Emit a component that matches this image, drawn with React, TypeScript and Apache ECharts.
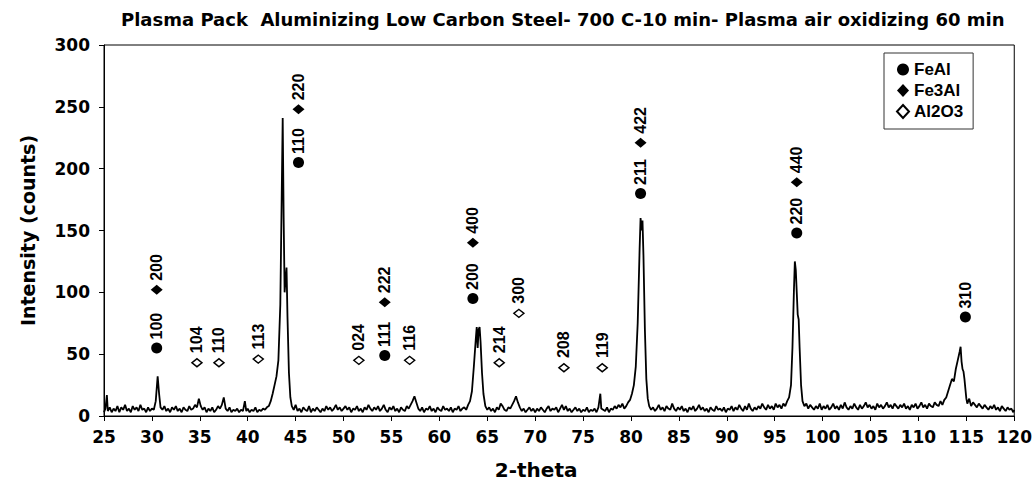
import React, { useEffect, useRef } from "react";
import * as echarts from "echarts";

// Diffraction pattern: [2-theta, intensity]
const spectrum: [number, number][] = [
  [25.0, 3], [25.15, 6], [25.3, 17], [25.4, 4], [25.6, 7], [25.8, 3], [26.0, 6], [26.2, 4], [26.4, 8], [26.6, 3],
  [26.8, 7], [27.0, 5], [27.2, 9], [27.4, 4], [27.6, 6], [27.8, 3], [28.0, 8], [28.2, 5], [28.4, 7], [28.6, 4],
  [28.8, 9], [29.0, 5], [29.2, 6], [29.4, 3], [29.6, 7], [29.8, 4], [30.0, 6], [30.2, 5], [30.4, 12], [30.6, 32],
  [30.75, 18], [30.9, 7], [31.1, 5], [31.3, 8], [31.5, 4], [31.7, 6], [31.9, 3], [32.1, 7], [32.3, 5], [32.5, 8],
  [32.7, 4], [32.9, 6], [33.1, 3], [33.3, 7], [33.5, 5], [33.7, 4], [33.9, 8], [34.1, 5], [34.3, 6], [34.5, 9],
  [34.7, 7], [34.9, 14], [35.1, 8], [35.3, 5], [35.5, 7], [35.7, 3], [35.9, 6], [36.1, 4], [36.3, 7], [36.5, 3],
  [36.7, 5], [36.9, 8], [37.1, 6], [37.3, 9], [37.5, 15], [37.7, 6], [37.9, 4], [38.1, 7], [38.3, 3], [38.5, 5],
  [38.7, 4], [38.9, 6], [39.1, 3], [39.3, 5], [39.5, 4], [39.7, 12], [39.85, 4], [40.0, 6], [40.2, 3], [40.4, 5],
  [40.6, 4], [40.8, 7], [41.0, 3], [41.2, 5], [41.4, 4], [41.6, 6], [41.8, 5], [42.0, 7], [42.2, 8], [42.4, 12],
  [42.6, 18], [42.8, 25], [43.0, 32], [43.2, 45], [43.4, 90], [43.55, 180], [43.65, 241], [43.75, 160], [43.85, 100],
  [43.95, 110], [44.05, 120], [44.15, 80], [44.3, 35], [44.45, 15], [44.6, 8], [44.8, 5], [45.0, 9], [45.2, 4],
  [45.4, 6], [45.6, 3], [45.8, 7], [46.0, 5], [46.2, 4], [46.4, 8], [46.6, 3], [46.8, 6], [47.0, 4], [47.2, 7],
  [47.4, 5], [47.6, 3], [47.8, 6], [48.0, 4], [48.2, 8], [48.4, 5], [48.6, 7], [48.8, 4], [49.0, 6], [49.2, 9],
  [49.4, 5], [49.6, 7], [49.8, 4], [50.0, 6], [50.2, 8], [50.4, 5], [50.6, 7], [50.8, 3], [51.0, 6], [51.2, 5],
  [51.4, 8], [51.6, 4], [51.8, 6], [52.0, 3], [52.2, 7], [52.4, 5], [52.6, 9], [52.8, 6], [53.0, 4], [53.2, 7],
  [53.4, 5], [53.6, 8], [53.8, 4], [54.0, 6], [54.2, 9], [54.4, 5], [54.6, 3], [54.8, 7], [55.0, 5], [55.2, 8],
  [55.4, 4], [55.6, 6], [55.8, 3], [56.0, 7], [56.2, 5], [56.4, 4], [56.6, 8], [56.8, 6], [57.0, 9], [57.2, 12],
  [57.4, 16], [57.6, 11], [57.8, 6], [58.0, 4], [58.2, 7], [58.4, 3], [58.6, 6], [58.8, 5], [59.0, 8], [59.2, 4],
  [59.4, 6], [59.6, 3], [59.8, 7], [60.0, 5], [60.2, 4], [60.4, 8], [60.6, 5], [60.8, 6], [61.0, 4], [61.2, 7],
  [61.4, 3], [61.6, 6], [61.8, 5], [62.0, 8], [62.2, 4], [62.4, 6], [62.6, 7], [62.8, 5], [63.0, 9], [63.2, 12],
  [63.4, 20], [63.6, 40], [63.8, 62], [63.9, 72], [64.0, 55], [64.1, 70], [64.2, 72], [64.3, 60], [64.45, 35],
  [64.6, 18], [64.8, 8], [65.0, 5], [65.2, 7], [65.4, 4], [65.6, 6], [65.8, 3], [66.0, 7], [66.2, 5], [66.4, 10],
  [66.6, 8], [66.8, 5], [67.0, 4], [67.2, 7], [67.4, 6], [67.6, 9], [67.8, 12], [68.0, 16], [68.2, 11], [68.4, 7],
  [68.6, 4], [68.8, 6], [69.0, 3], [69.2, 5], [69.4, 7], [69.6, 4], [69.8, 6], [70.0, 3], [70.2, 6], [70.4, 4],
  [70.6, 7], [70.8, 5], [71.0, 3], [71.2, 6], [71.4, 8], [71.6, 4], [71.8, 6], [72.0, 5], [72.2, 7], [72.4, 3],
  [72.6, 6], [72.8, 9], [73.0, 5], [73.2, 8], [73.4, 4], [73.6, 6], [73.8, 3], [74.0, 5], [74.2, 7], [74.4, 4],
  [74.6, 6], [74.8, 3], [75.0, 5], [75.2, 4], [75.4, 7], [75.6, 3], [75.8, 5], [76.0, 4], [76.2, 6], [76.4, 3],
  [76.6, 7], [76.8, 18], [76.9, 6], [77.1, 5], [77.3, 4], [77.5, 7], [77.7, 3], [77.9, 6], [78.1, 5], [78.3, 8],
  [78.5, 6], [78.7, 9], [78.9, 7], [79.1, 10], [79.3, 6], [79.5, 8], [79.7, 11], [79.9, 13], [80.1, 18], [80.3, 25],
  [80.5, 40], [80.7, 75], [80.9, 135], [81.0, 160], [81.1, 150], [81.2, 158], [81.3, 130], [81.45, 70], [81.6, 30],
  [81.75, 14], [81.9, 8], [82.1, 5], [82.3, 7], [82.5, 4], [82.7, 6], [82.9, 9], [83.1, 5], [83.3, 7], [83.5, 4],
  [83.7, 8], [83.9, 6], [84.1, 5], [84.3, 10], [84.5, 6], [84.7, 4], [84.9, 7], [85.1, 5], [85.3, 8], [85.5, 4],
  [85.7, 6], [85.9, 3], [86.1, 7], [86.3, 5], [86.5, 8], [86.7, 4], [86.9, 6], [87.1, 9], [87.3, 5], [87.5, 7],
  [87.7, 4], [87.9, 6], [88.1, 3], [88.3, 7], [88.5, 5], [88.7, 4], [88.9, 8], [89.1, 5], [89.3, 6], [89.5, 4],
  [89.7, 7], [89.9, 3], [90.1, 6], [90.3, 5], [90.5, 8], [90.7, 4], [90.9, 7], [91.1, 5], [91.3, 9], [91.5, 6],
  [91.7, 4], [91.9, 8], [92.1, 5], [92.3, 10], [92.5, 6], [92.7, 4], [92.9, 7], [93.1, 5], [93.3, 8], [93.5, 6],
  [93.7, 10], [93.9, 7], [94.1, 5], [94.3, 9], [94.5, 6], [94.7, 8], [94.9, 5], [95.1, 10], [95.3, 7], [95.5, 9],
  [95.7, 6], [95.9, 10], [96.1, 8], [96.3, 12], [96.5, 15], [96.7, 25], [96.85, 55], [97.0, 100], [97.1, 125],
  [97.2, 118], [97.3, 100], [97.4, 82], [97.5, 78], [97.6, 55], [97.75, 25], [97.9, 12], [98.1, 8], [98.3, 10],
  [98.5, 6], [98.7, 9], [98.9, 7], [99.1, 5], [99.3, 8], [99.5, 6], [99.7, 10], [99.9, 5], [100.1, 8], [100.3, 6],
  [100.5, 9], [100.7, 5], [100.9, 7], [101.1, 10], [101.3, 6], [101.5, 8], [101.7, 5], [101.9, 9], [102.1, 6],
  [102.3, 11], [102.5, 7], [102.7, 5], [102.9, 8], [103.1, 6], [103.3, 10], [103.5, 7], [103.7, 5], [103.9, 9],
  [104.1, 6], [104.3, 8], [104.5, 11], [104.7, 7], [104.9, 9], [105.1, 6], [105.3, 8], [105.5, 5], [105.7, 10],
  [105.9, 7], [106.1, 9], [106.3, 6], [106.5, 8], [106.7, 11], [106.9, 7], [107.1, 9], [107.3, 6], [107.5, 10],
  [107.7, 8], [107.9, 6], [108.1, 9], [108.3, 7], [108.5, 10], [108.7, 6], [108.9, 8], [109.1, 5], [109.3, 9],
  [109.5, 7], [109.7, 10], [109.9, 6], [110.1, 8], [110.3, 11], [110.5, 7], [110.7, 9], [110.9, 6], [111.1, 10],
  [111.3, 8], [111.5, 7], [111.7, 11], [111.9, 9], [112.1, 8], [112.3, 12], [112.5, 9], [112.7, 13], [112.9, 15],
  [113.1, 20], [113.3, 25], [113.5, 30], [113.7, 28], [113.9, 38], [114.1, 45], [114.3, 52], [114.4, 56],
  [114.5, 44], [114.6, 38], [114.7, 36], [114.8, 30], [114.9, 22], [115.0, 14], [115.1, 10], [115.3, 14],
  [115.5, 8], [115.7, 11], [115.9, 9], [116.1, 7], [116.3, 10], [116.5, 8], [116.7, 6], [116.9, 9], [117.1, 7],
  [117.3, 5], [117.5, 8], [117.7, 6], [117.9, 9], [118.1, 5], [118.3, 7], [118.5, 4], [118.7, 8], [118.9, 6],
  [119.1, 4], [119.3, 7], [119.5, 5], [119.7, 6], [119.9, 3], [120.0, 5],
];

// Phase markers: position (2-theta), marker height, Miller indices
const feAlTheta = [30.5, 45.3, 54.3, 63.5, 81.0, 97.3, 114.9];
const feAlMarkY = [55, 205, 49, 95, 180, 148, 80];
const feAlHkl = ["100", "110", "111", "200", "211", "220", "310"];

const fe3AlTheta = [30.5, 45.3, 54.3, 63.5, 81.0, 97.3];
const fe3AlMarkY = [102, 248, 92, 140, 221, 189];
const fe3AlHkl = ["200", "220", "222", "400", "422", "440"];

const al2o3Theta = [34.7, 37.0, 41.1, 51.6, 56.9, 66.25, 68.3, 73.0, 77.0];
const al2o3MarkY = [43, 43, 46, 45, 45, 43, 83, 39, 39];
const al2o3Hkl = ["104", "110", "113", "024", "116", "214", "300", "208", "119"];

const xTicks = { min: 25, max: 120, interval: 5 };
const yTicks = { min: 0, max: 300, interval: 50 };

const TITLE = "Plasma Pack  Aluminizing Low Carbon Steel- 700 C-10 min- Plasma air oxidizing 60 min";

const numFont = "DejaVu Sans";

function markerData(theta: number[], ys: number[], hkl: string[]) {
  return theta.map((t, i) => ({ value: [t, ys[i]], name: hkl[i] }));
}

const labelCfg = (distance: number) => ({
  show: true,
  formatter: "{b}",
  position: "top" as const,
  distance,
  rotate: 90,
  align: "left" as const,
  verticalAlign: "middle" as const,
  fontFamily: "Liberation Sans",
  fontWeight: "bold" as const,
  fontSize: 16,
  color: "#000",
  opacity: 1,
});

export default function App() {
  const ref = useRef<HTMLDivElement>(null);
  useEffect(() => {
    if (!ref.current) return;
    const chart = echarts.init(ref.current, null, { renderer: "svg" });
    chart.setOption({
      animation: false,
      backgroundColor: "#fff",
      title: {
        text: TITLE,
        left: 116,
        top: 5,
        textStyle: { fontFamily: numFont, fontWeight: "bold", fontSize: 18, color: "#000" },
      },
      grid: {
        left: 104,
        right: 19,
        top: 45,
        bottom: 69,
        show: true,
        borderColor: "#000",
        borderWidth: 1,
        backgroundColor: "transparent",
      },
      legend: {
        orient: "vertical",
        left: 884,
        top: 53,
        padding: [8, 10, 9, 12],
        itemGap: 4,
        itemWidth: 12,
        itemHeight: 13,
        borderColor: "#333",
        borderWidth: 1,
        backgroundColor: "#fff",
        data: ["FeAl", "Fe3Al", "Al2O3"],
        textStyle: { fontFamily: "Liberation Sans", fontWeight: "bold", fontSize: 17, color: "#000" },
      },
      xAxis: {
        type: "value",
        min: xTicks.min,
        max: xTicks.max,
        interval: xTicks.interval,
        name: "2-theta",
        nameLocation: "middle",
        nameGap: 44,
        nameTextStyle: {
          fontFamily: numFont,
          fontWeight: "bold",
          fontSize: 20,
          color: "#000",
          padding: [0, 46, 0, 0],
        },
        axisLine: { show: true, onZero: false, lineStyle: { color: "#000", width: 1 } },
        axisTick: { show: true, length: 5, lineStyle: { color: "#000" } },
        axisLabel: { margin: 12, fontFamily: numFont, fontWeight: "bold", fontSize: 17, color: "#000" },
        splitLine: { show: false },
      },
      yAxis: {
        type: "value",
        min: yTicks.min,
        max: yTicks.max,
        interval: yTicks.interval,
        name: "Intensity (counts)",
        nameLocation: "middle",
        nameGap: 67,
        nameTextStyle: { fontFamily: numFont, fontWeight: "bold", fontSize: 19, color: "#000" },
        axisLine: { show: true, lineStyle: { color: "#000", width: 1 } },
        axisTick: { show: true, length: 5, lineStyle: { color: "#000" } },
        axisLabel: { margin: 14, fontFamily: numFont, fontWeight: "bold", fontSize: 17, color: "#000" },
        splitLine: { show: false },
      },
      series: [
        {
          name: "pattern",
          type: "line",
          data: spectrum,
          showSymbol: false,
          symbol: "none",
          lineStyle: { color: "#000", width: 1.8 },
          silent: true,
          z: 2,
        },
        {
          name: "FeAl",
          type: "scatter",
          data: markerData(feAlTheta, feAlMarkY, feAlHkl),
          symbol: "circle",
          symbolSize: 11,
          itemStyle: { color: "#000", opacity: 1 },
          label: labelCfg(3),
          z: 5,
        },
        {
          name: "Fe3Al",
          type: "scatter",
          data: markerData(fe3AlTheta, fe3AlMarkY, fe3AlHkl),
          symbol: "diamond",
          symbolSize: [12, 10],
          itemStyle: { color: "#000", opacity: 1 },
          label: labelCfg(4),
          z: 5,
        },
        {
          name: "Al2O3",
          type: "scatter",
          data: markerData(al2o3Theta, al2o3MarkY, al2o3Hkl),
          symbol: "diamond",
          symbolSize: [10, 8],
          itemStyle: { color: "#fff", borderColor: "#000", borderWidth: 1.5, opacity: 1 },
          label: labelCfg(5),
          z: 5,
        },
      ],
    });
    return () => chart.dispose();
  }, []);
  return (
    <div
      ref={ref}
      style={{ position: "fixed", left: 0, top: 0, width: 1035, height: 485, background: "#fff" }}
    />
  );
}
